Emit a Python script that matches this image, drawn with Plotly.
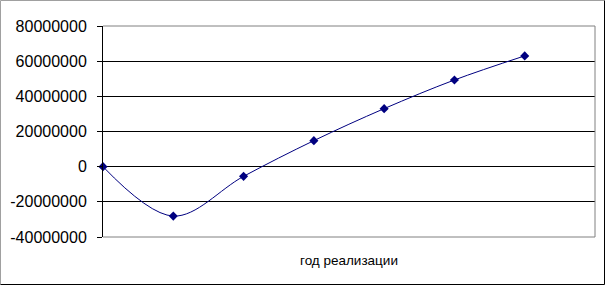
import plotly.graph_objects as go

years = [0, 1, 2, 3, 4, 5, 6]
values = [0, -28100000, -5500000, 14800000, 33000000, 49300000, 63000000]
y_ticks = [-40000000, -20000000, 0, 20000000, 40000000, 60000000, 80000000]
y_tick_labels = ["-40000000", "-20000000", "0", "20000000", "40000000", "60000000", "80000000"]
x_title = "год реализации"

W, H = 605, 286
L, R, T, B = 103, 10, 26, 49
pw, ph = W - L - R, H - T - B

def px(x):
    return (x - L) / pw

def py(y):
    return (H - B - y) / ph

fig = go.Figure()
fig.add_trace(go.Scatter(
    x=years, y=values, mode="lines+markers",
    line=dict(color="#000080", width=1, shape="spline", smoothing=1.0),
    marker=dict(symbol="diamond", size=7, color="#000080"),
    showlegend=False, cliponaxis=False,
))

gray = "#808080"
shapes = [
    # plot area border (gray) on top, right, bottom
    dict(type="line", xref="paper", yref="paper", x0=0, x1=1, y0=1, y1=1,
         line=dict(color=gray, width=1), layer="above"),
    dict(type="line", xref="paper", yref="paper", x0=1, x1=1, y0=0, y1=1,
         line=dict(color=gray, width=1), layer="above"),
    dict(type="line", xref="paper", yref="paper", x0=0, x1=1, y0=0, y1=0,
         line=dict(color=gray, width=1), layer="above"),
    # outer chart border
    dict(type="line", xref="paper", yref="paper", x0=px(0.5), x1=px(0.5), y0=py(0.5), y1=py(284.5),
         line=dict(color="#a0a0a0", width=1)),
    dict(type="line", xref="paper", yref="paper", x0=px(0.5), x1=px(604.5), y0=py(0.5), y1=py(0.5),
         line=dict(color="#a0a0a0", width=1)),
    dict(type="line", xref="paper", yref="paper", x0=px(0.5), x1=px(604.5), y0=py(284.5), y1=py(284.5),
         line=dict(color="#000000", width=1)),
    dict(type="line", xref="paper", yref="paper", x0=px(604.5), x1=px(604.5), y0=py(0.5), y1=py(284.5),
         line=dict(color="#000000", width=1)),
]

fig.update_layout(
    width=W, height=H,
    margin=dict(l=L, r=R, t=T, b=B, pad=0),
    paper_bgcolor="white", plot_bgcolor="white",
    font=dict(family="Liberation Sans, Arial, sans-serif", color="black"),
    shapes=shapes,
    xaxis=dict(
        range=[0, 7], showticklabels=False, ticks="", showgrid=False,
        zeroline=False, showline=False, fixedrange=True,
    ),
    yaxis=dict(
        range=[-40000000, 80000000], tickvals=y_ticks, ticktext=y_tick_labels,
        ticks="outside", ticklen=5, tickcolor="black", tickwidth=1,
        showgrid=True, gridcolor="black", gridwidth=1,
        zeroline=False, showline=True, linecolor="black", linewidth=1,
        tickfont=dict(size=16, family="Liberation Sans, Arial, sans-serif"),
        ticklabelstandoff=7,
    ),
    annotations=[dict(
        text=x_title, xref="paper", yref="paper", x=0.5, y=py(260),
        showarrow=False, xanchor="center", yanchor="middle",
        font=dict(size=13.5, family="Liberation Sans, Arial, sans-serif"),
    )],
)

fig.write_html("out.html")
